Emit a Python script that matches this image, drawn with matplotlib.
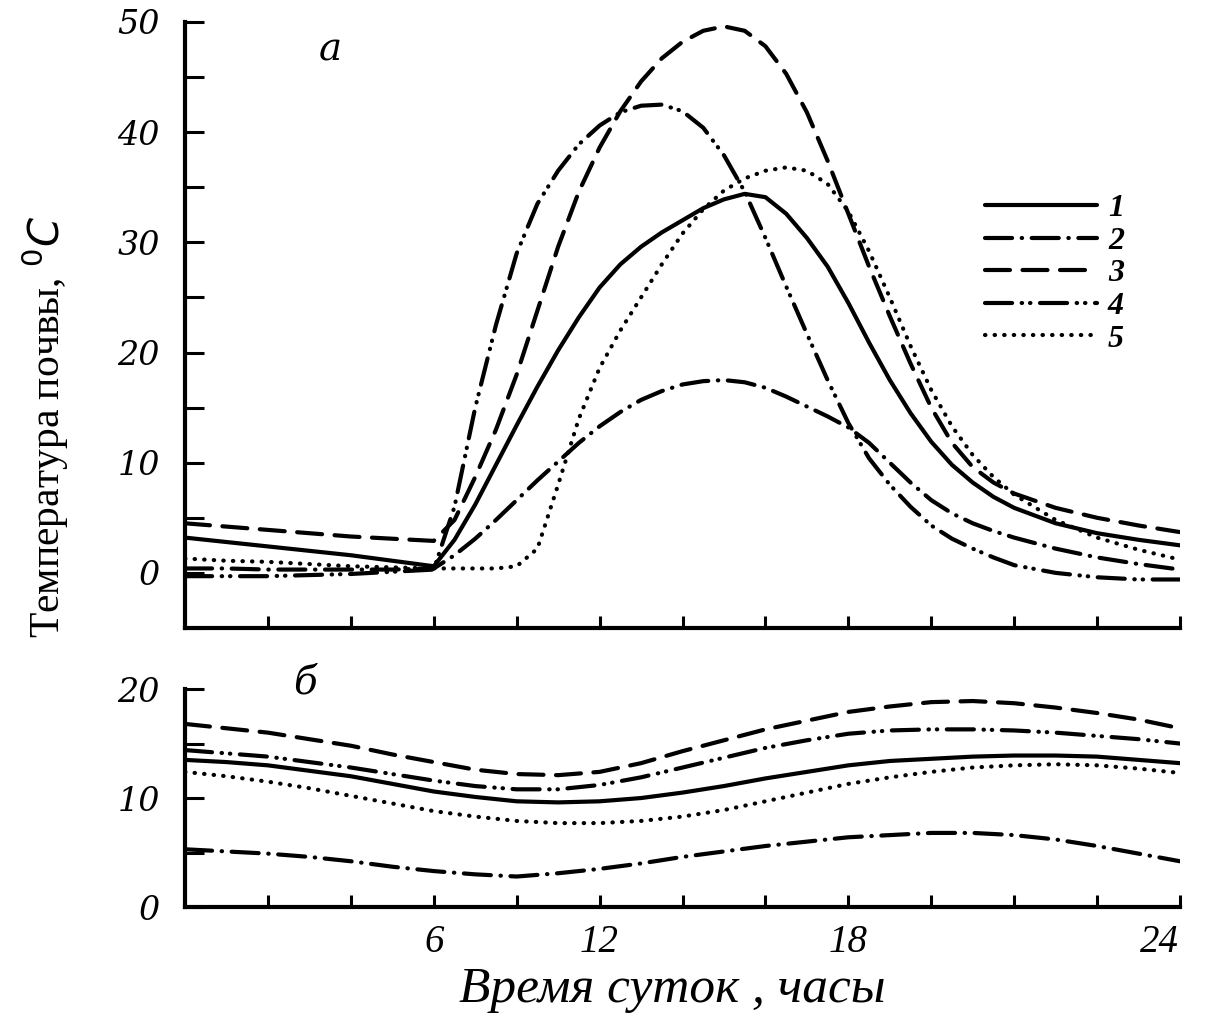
import matplotlib
matplotlib.use("Agg")
import matplotlib.pyplot as plt
from matplotlib.ticker import MultipleLocator

# panel "а": soil surface temperature over the day
HOURS_A = [0, 1, 2, 3, 4, 5, 5.5, 6, 6.5, 7, 7.5, 8, 8.5, 9, 9.5, 10, 10.5, 11, 11.5, 12,
           12.5, 13, 13.5, 14, 14.5, 15, 15.5, 16, 16.5, 17, 17.5, 18, 18.5, 19, 19.5,
           20, 21, 22, 23, 24]
TEMP_A_1 = [3.2, 2.8, 2.4, 2.0, 1.6, 1.1, 0.85, 0.6, 3.0, 6.2, 9.8, 13.4, 16.9, 20.2,
            23.2, 25.9, 28.0, 29.6, 30.9, 32.0, 33.1, 33.9, 34.4, 34.1, 32.6, 30.4,
            27.8, 24.5, 20.9, 17.5, 14.5, 11.9, 9.8, 8.2, 6.9, 5.9, 4.5, 3.6, 3.0, 2.5]
TEMP_A_2 = [0.4, 0.4, 0.3, 0.3, 0.3, 0.3, 0.35, 0.4, 1.6, 3.1, 4.8, 6.6, 8.4, 10.1,
            11.8, 13.3, 14.6, 15.7, 16.5, 17.1, 17.4, 17.5, 17.3, 16.8, 16.0, 15.1,
            14.2, 13.2, 11.8, 10.0, 8.2, 6.6, 5.4, 4.5, 3.8, 3.2, 2.2, 1.4, 0.8, 0.3]
TEMP_A_3 = [4.5, 4.2, 3.9, 3.6, 3.3, 3.1, 3.0, 2.9, 4.8, 8.7, 13.0, 18.0, 23.8, 29.6,
            34.6, 38.6, 41.9, 44.6, 46.7, 48.2, 49.2, 49.6, 49.2, 47.8, 45.3, 41.8,
            37.4, 32.6, 27.8, 23.3, 19.0, 15.0, 11.8, 9.6, 8.2, 7.2, 5.9, 5.0, 4.3, 3.7]
TEMP_A_4 = [-0.3, -0.3, -0.3, -0.2, -0.1, 0.1, 0.2, 0.3, 6.0, 15.0, 22.5, 29.0, 33.5,
            36.5, 38.9, 40.6, 41.8, 42.4, 42.5, 41.9, 40.4, 37.9, 34.6, 30.4, 26.0,
            21.7, 17.5, 13.6, 10.4, 8.0, 6.0, 4.3, 3.1, 2.2, 1.4, 0.7, 0.0, -0.4, -0.6,
            -0.6]
TEMP_A_5 = [1.3, 1.1, 1.0, 0.8, 0.6, 0.5, 0.45, 0.4, 0.4, 0.4, 0.4, 0.6, 2.2, 8.0,
            14.0, 18.6, 22.0, 25.0, 28.0, 30.8, 33.0, 34.7, 35.8, 36.5, 36.8, 36.5,
            35.3, 32.8, 29.2, 25.0, 20.6, 16.6, 13.3, 10.7, 8.7, 7.1, 4.8, 3.2, 2.1, 1.2]

# panel "б": deeper soil layer
HOURS_B = list(range(25))
TEMP_B_1 = [13.5, 13.3, 13.0, 12.5, 12.0, 11.3, 10.6, 10.1, 9.7, 9.6, 9.7, 10.0, 10.5,
            11.1, 11.8, 12.4, 13.0, 13.4, 13.6, 13.8, 13.9, 13.9, 13.8, 13.5, 13.2]
TEMP_B_2 = [5.3, 5.1, 4.9, 4.6, 4.2, 3.7, 3.3, 3.0, 2.8, 3.1, 3.5, 4.0, 4.6, 5.1, 5.6,
            6.0, 6.4, 6.6, 6.8, 6.8, 6.6, 6.2, 5.6, 4.9, 4.2]
TEMP_B_3 = [16.8, 16.4, 16.0, 15.4, 14.8, 14.0, 13.3, 12.6, 12.2, 12.1, 12.4, 13.2, 14.3,
            15.3, 16.3, 17.1, 17.9, 18.4, 18.8, 18.9, 18.7, 18.3, 17.8, 17.2, 16.4]
TEMP_B_4 = [14.4, 14.1, 13.8, 13.3, 12.8, 12.2, 11.6, 11.1, 10.8, 10.8, 11.2, 11.9, 12.8,
            13.7, 14.6, 15.3, 15.9, 16.2, 16.3, 16.3, 16.2, 16.0, 15.7, 15.4, 15.0]
TEMP_B_5 = [12.4, 12.0, 11.5, 10.9, 10.2, 9.5, 8.8, 8.3, 7.9, 7.7, 7.7, 7.9, 8.3, 8.9,
            9.7, 10.5, 11.3, 11.9, 12.4, 12.8, 13.0, 13.1, 13.0, 12.7, 12.3]

SERIES_LABELS = ["1", "2", "3", "4", "5"]
# in the scan the hour labels do not sit on the tick marks
XTICK_POS = [6, 10, 16, 23.5]
XTICK_LABELS = ["6", "12", "18", "24"]

DASHES = {
    "1": None,
    "2": (6.5, 2.3, 0.1, 2.3),
    "3": (6, 3),
    "4": (6.5, 2.3, 0.1, 1.9, 0.1, 2.3),
    "5": (0.1, 2.2),
}


def draw(ax, x, y, key):
    kw = dict(color="black", lw=3.0, dash_capstyle="round", solid_capstyle="round",
              solid_joinstyle="round")
    if DASHES[key] is not None:
        kw["dashes"] = DASHES[key]
    return ax.plot(x, y, label=key, **kw)[0]


def style_axes(ax):
    for s in ("top", "right"):
        ax.spines[s].set_visible(False)
    for s in ("left", "bottom"):
        ax.spines[s].set_linewidth(3)
    ax.set_xlim(0, 24)
    ax.tick_params(axis="y", which="both", direction="in", length=14, width=2.2, pad=18)


fig = plt.figure(figsize=(12.14, 10.13), dpi=100)
ax_a = fig.add_axes([0.1524, 0.3801, 0.8196, 0.5982])
ax_b = fig.add_axes([0.1524, 0.1046, 0.8196, 0.2152])

handles = []
for key, vals in zip(SERIES_LABELS, [TEMP_A_1, TEMP_A_2, TEMP_A_3, TEMP_A_4, TEMP_A_5]):
    handles.append(draw(ax_a, HOURS_A, vals, key))
for key, vals in zip(SERIES_LABELS, [TEMP_B_1, TEMP_B_2, TEMP_B_3, TEMP_B_4, TEMP_B_5]):
    draw(ax_b, HOURS_B, vals, key)

style_axes(ax_a)
ax_a.set_ylim(-5, 50)
ax_a.set_yticks(range(0, 51, 10))
ax_a.yaxis.set_minor_locator(MultipleLocator(5))
ax_a.set_xticks(range(2, 25, 2))
ax_a.tick_params(axis="x", direction="in", length=9, width=2.2, labelbottom=False)

style_axes(ax_b)
ax_b.set_ylim(0, 20)
ax_b.set_yticks([0, 10, 20])
ax_b.yaxis.set_minor_locator(MultipleLocator(5))
ax_b.set_xticks(XTICK_POS, labels=XTICK_LABELS)
ax_b.set_xticks(range(2, 25, 2), minor=True)
ax_b.xaxis.remove_overlapping_locs = False
ax_b.tick_params(axis="x", which="major", length=0, pad=12)
ax_b.tick_params(axis="x", which="minor", direction="in", length=9, width=2.2)

for ax in (ax_a, ax_b):
    for lab in ax.get_yticklabels():
        lab.set_family("DejaVu Serif"); lab.set_style("italic"); lab.set_fontsize(24)
for lab in ax_b.get_xticklabels():
    lab.set_family("Liberation Serif"); lab.set_style("italic"); lab.set_fontsize(28)

ax_a.text(3.5, 47.5, "а", fontsize=28, family="DejaVu Serif", style="italic",
          ha="center", va="center")
ax_b.text(2.9, 20.6, "б", fontsize=28, family="DejaVu Serif", style="italic",
          ha="center", va="center")

leg = ax_a.legend(handles=handles, loc="upper left", frameon=False,
                  bbox_to_anchor=(985 / 1214, 1 - 194 / 1013), bbox_transform=fig.transFigure,
                  borderpad=0, borderaxespad=0, handlelength=3.5, handletextpad=0.35,
                  labelspacing=0.1, prop=dict(family="Liberation Serif", style="italic",
                                              weight="bold", size=23))

fig.text(45 / 1214, 1 - 427 / 1013, "Температура почвы, $^{0}C$", rotation=90,
         ha="center", va="center", fontsize=30, family="Liberation Serif")
fig.text(672 / 1214, 1 - 990 / 1013, "Время суток , часы", ha="center", va="center",
         fontsize=37, family="Liberation Serif", style="italic")

fig.savefig("out.png", dpi=100)
